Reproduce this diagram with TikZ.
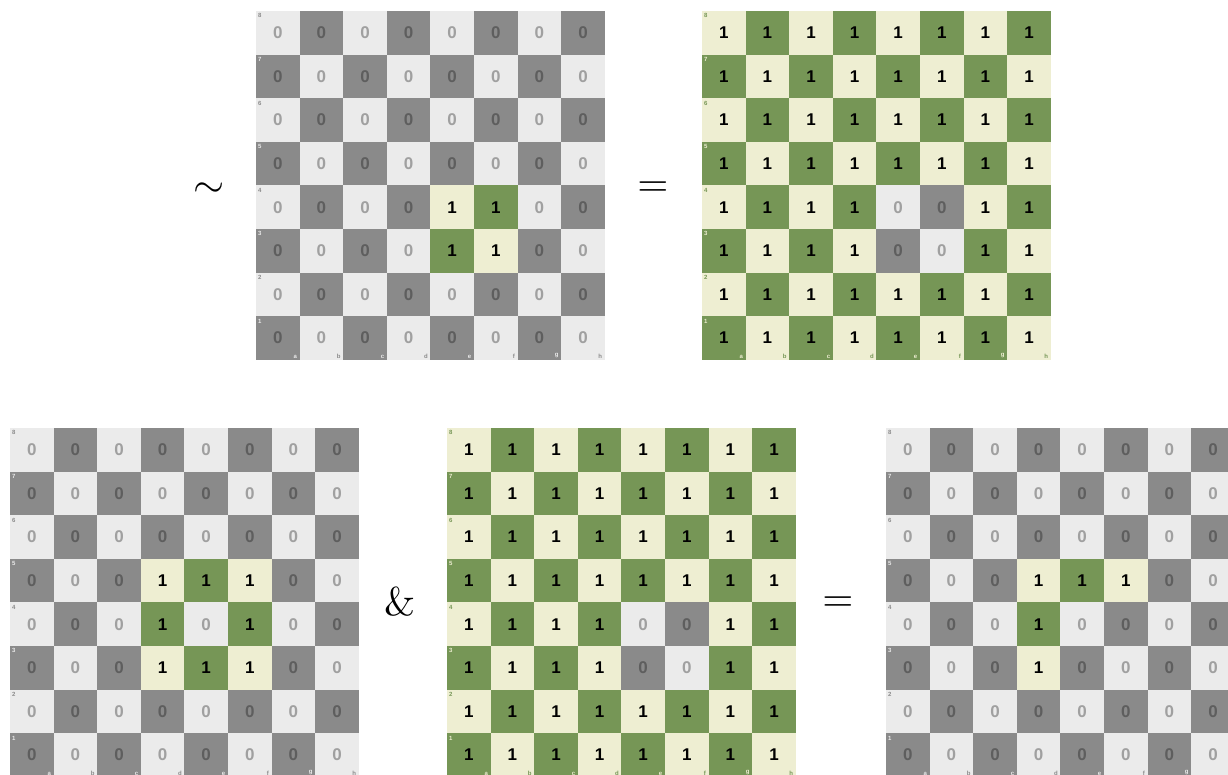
\documentclass[tikz,border=0pt]{standalone}
\usepackage{fontspec}
\newfontfamily\boardfont{Liberation Sans}

\definecolor{greylight}{HTML}{EBEBEB}
\definecolor{greydark}{HTML}{8A8A8A}
\definecolor{greenlight}{HTML}{EEEED2}
\definecolor{greendark}{HTML}{769656}
\definecolor{greylightdigit}{HTML}{A0A0A0}
\definecolor{greydarkdigit}{HTML}{5E5E5E}
\colorlet{greenlightdigit}{black}
\colorlet{greendarkdigit}{black}

\newcommand*{\sqsize}{43.6}

\makeatletter
\newcommand*{\checkswap}[2]{%
	\edef\@tmpa{\noexpand\in@{,#1,}{,#2,}}\@tmpa
	\ifin@\pgfmathtruncatemacro{\sqval}{1-\sqval}\fi
}
\makeatother

% board: name, left, top, base value, squares with the other value
\newcommand{\drawboard}[5]{
	\foreach \col/\lett in {1/a,2/b,3/c,4/d,5/e,6/f,7/g,8/h} {
		\foreach \row in {1,...,8} {
			\def\sqval{#4}
			\checkswap{\lett\row}{#5}
			\pgfmathtruncatemacro{\tone}{mod(\col+\row,2)}
			\ifnum\tone=0 \def\sqtone{dark}\def\labtone{light}\else\def\sqtone{light}\def\labtone{dark}\fi
			\ifnum\sqval=0 \def\sqpal{grey}\else\def\sqpal{green}\fi
			\edef\sqcol{\sqpal\sqtone}
			\edef\labcol{\sqpal\labtone}
			\pgfmathsetmacro{\sx}{#2+(\col-1)*\sqsize}
			\pgfmathsetmacro{\sy}{#3+(8-\row)*\sqsize}
			\fill[fill=\sqcol] (\sx,\sy) rectangle ++(\sqsize,\sqsize);
			\node[digit,text=\sqcol digit] (#1-\lett\row) at (\sx+0.5*\sqsize,\sy+0.5*\sqsize) {\sqval};
			\ifnum\col=1
				\node[ranklab,text=\labcol] (#1-r\row) at (\sx+2,\sy+2.5) {\row};
			\fi
			\ifnum\row=1
				\node[filelab,text=\labcol] (#1-f\lett) at (\sx+\sqsize-2.5,\sy+\sqsize-1.5) {\lett};
			\fi
		}
	}
}

\begin{document}
\begin{tikzpicture}
[
	x=1pt,
	y=-1pt,
	digit/.style={font=\boardfont\bfseries\fontsize{17}{17}\selectfont,inner sep=0pt},
	ranklab/.style={font=\boardfont\bfseries\fontsize{6}{6}\selectfont,inner sep=0pt,anchor=north west},
	filelab/.style={font=\boardfont\bfseries\fontsize{6}{6}\selectfont,inner sep=0pt,anchor=south east},
	op/.style={inner sep=0pt,scale=4,transform shape}
]

	\useasboundingbox (0,0) rectangle (1228,774);
	\clip (0,0) rectangle (1228,774);

	% top row
	\drawboard{b1}{256}{11}{0}{e4,f4,e3,f3}
	\drawboard{b2}{702}{11}{1}{e4,f4,e3,f3}

	% bottom row
	\drawboard{b3}{10}{428}{0}{d5,e5,f5,d4,f4,d3,e3,f3}
	\drawboard{b4}{447}{428}{1}{e4,f4,e3,f3}
	\drawboard{b5}{886}{428}{0}{d5,e5,f5,d4,d3}

	% operators
	\node[op] (tilde) at (209,190) {$\sim$};
	\node[op] (eqtop) at (653,189) {$=$};
	\node[op] (amp) at (400,602) {\&};
	\node[op] (eqbot) at (838,604) {$=$};

\end{tikzpicture}
\end{document}
